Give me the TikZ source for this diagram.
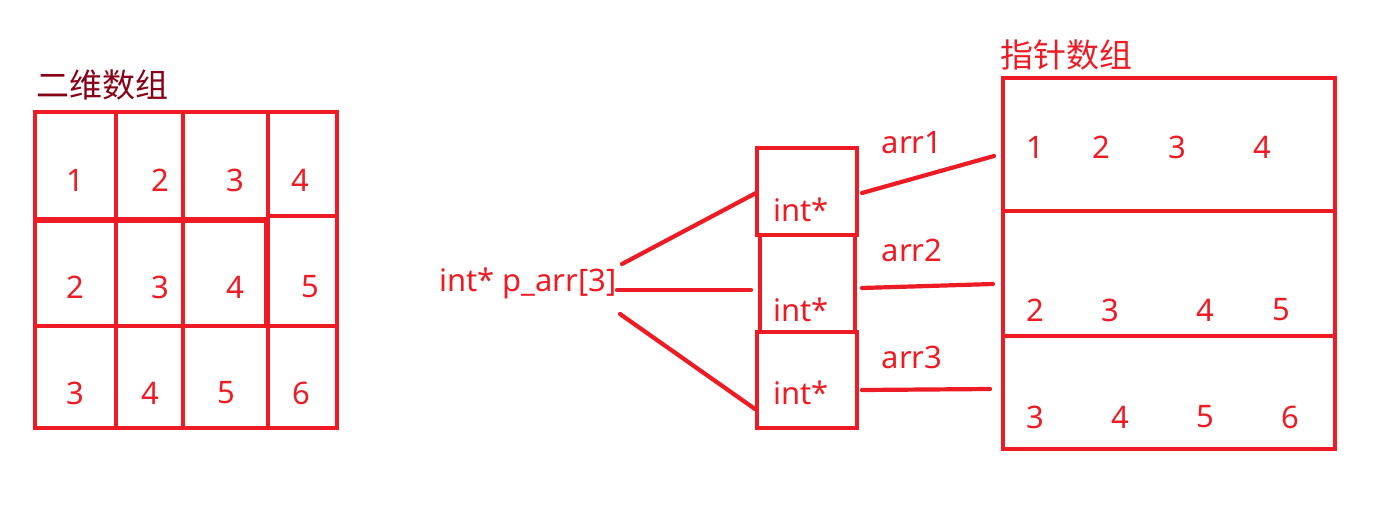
\documentclass[tikz,border=0pt]{standalone}
\usepackage{fontspec}
\setmainfont{Noto Sans}
\newfontfamily\cjk{Noto Sans CJK SC}
\definecolor{pred}{HTML}{ED1C24}
\definecolor{dred}{HTML}{880015}
\begin{document}
\begin{tikzpicture}[x=0.5pt,y=-0.5pt,
  box/.style={draw=pred,line width=2.4pt},
  ln/.style={draw=pred,line width=2.1pt,line cap=round},
  num/.style={text=pred,font=\fontsize{15.5}{18}\selectfont,inner sep=0pt},
  lbl/.style={text=pred,font=\fontsize{15.5}{18}\selectfont,inner sep=0pt},
  ttl/.style={font=\cjk\fontsize{16.5}{19}\selectfont,inner sep=0pt,anchor=west}]
\useasboundingbox (0,0) rectangle (1390,520);
% left 2D array
\node[ttl,text=dred] (t1) at (36,85) {二维数组};
\draw[box] (35,112) rectangle (337,428);
\draw[box,line width=2.8pt] (35,220) -- (268,220);
\draw[box] (268,216) -- (337,216);
\draw[box] (35,326) -- (337,326);
\draw[box] (116,112) -- (116,428);
\draw[box] (183,112) -- (183,428);
\draw[box] (268,112) -- (268,428);
\draw[box,line width=2.8pt] (267,220) -- (267,326);
\foreach \t/\x/\y/\n in {1/75/180/a1,2/160/180/a2,3/235/180/a3,4/300/180/a4,
  2/75/287/b1,3/160/287/b2,4/235/287/b3,5/310/287/b4,
  3/75/393/c1,4/150/393/c2,5/226/393/c3,6/301/393/c4}
  \node[num] (\n) at (\x,\y) {\t};
% pointer array
\node[lbl] (parr) at (528,283) {int* p\_arr[3]};
\node[box,minimum width=50pt,minimum height=43.5pt,inner sep=0pt] (p1) at (807,191.5) {};
\node[box,minimum width=47.5pt,minimum height=48.5pt,inner sep=0pt] (p2) at (807.5,283.5) {};
\node[box,minimum width=50pt,minimum height=48pt,inner sep=0pt] (p3) at (807,380) {};
\node[lbl] (i1) at (801,210) {int*};
\node[lbl] (i2) at (801,310) {int*};
\node[lbl] (i3) at (801,393) {int*};
\coordinate (s1) at (622,264); \coordinate (e1) at (756,193);
\coordinate (s2) at (617,290); \coordinate (e2) at (751,290);
\coordinate (s3) at (620,314); \coordinate (e3) at (755,409);
\draw[ln] (s1) -- (e1);
\draw[ln] (s2) -- (e2);
\draw[ln] (s3) -- (e3);
% arr lines
\node[lbl] (l1) at (912,143) {arr1};
\node[lbl] (l2) at (912,250) {arr2};
\node[lbl] (l3) at (912,357) {arr3};
\coordinate (f1) at (862,193); \coordinate (g1) at (994,156);
\coordinate (f2) at (862,288); \coordinate (g2) at (993,284);
\coordinate (f3) at (862,390); \coordinate (g3) at (990,389);
\draw[ln] (f1) -- (g1);
\draw[ln] (f2) -- (g2);
\draw[ln] (f3) -- (g3);
% right box
\node[ttl,text=pred] (t2) at (1000,55) {指针数组};
\node[box,minimum width=166pt,minimum height=66.5pt,inner sep=0pt] (r1) at (1169,144.5) {};
\node[box,minimum width=166pt,minimum height=62.5pt,inner sep=0pt] (r2) at (1169,273.5) {};
\node[box,minimum width=166pt,minimum height=56.5pt,inner sep=0pt] (r3) at (1169,392.5) {};
\foreach \t/\x/\y/\n in {1/1035/147/x1,2/1101/147/x2,3/1177/147/x3,4/1262/147/x4,
  2/1035/310/y1,3/1110/310/y2,4/1205/310/y3,5/1281/310/y4,
  3/1035/417/z1,4/1120/417/z2,5/1205/417/z3,6/1290/417/z4}
  \node[num] (\n) at (\x,\y) {\t};
\end{tikzpicture}
\end{document}
